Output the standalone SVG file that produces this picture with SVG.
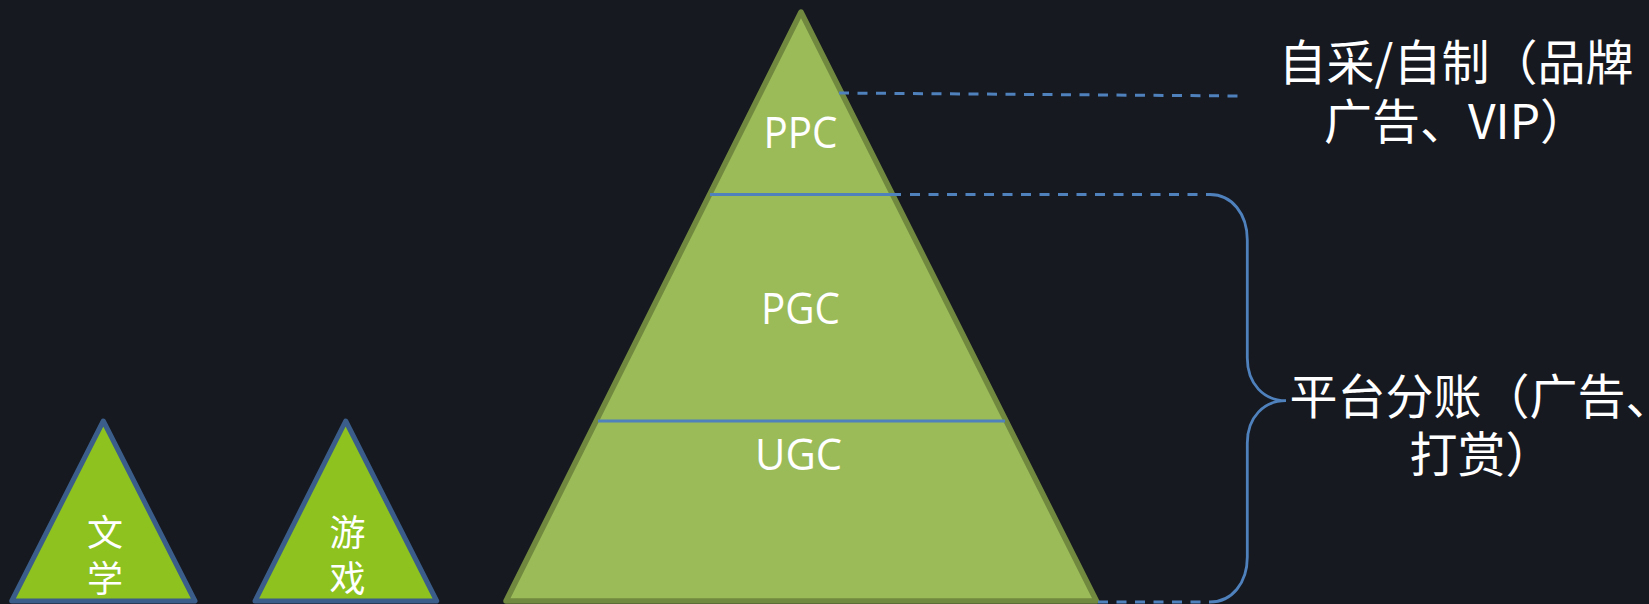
<svg xmlns="http://www.w3.org/2000/svg" width="1649" height="604" viewBox="0 0 1649 604">
<style>
.lat{font-family:"Open Sans","Noto Sans",sans-serif;font-size:44px;fill:#ffffff;text-anchor:middle}
.cjk{font-family:"Noto Sans CJK SC","Noto Sans",sans-serif;fill:#ffffff;text-anchor:middle}
.big{font-size:48px}
.small{font-size:36px}
.tri{fill:#8dc21f;stroke:#3b5d8a;stroke-width:5;stroke-linejoin:round}
.pyr{fill:#9bbb59;stroke:#71893f;stroke-width:5.5;stroke-linejoin:round}
.layer{stroke:#4f81bd;stroke-width:3;fill:none}
.dash{stroke:#4f81bd;stroke-width:3;fill:none;stroke-dasharray:10 8.5}
.brace{stroke:#4f81bd;stroke-width:2.8;fill:none}
</style>
<rect width="1649" height="604" fill="#161920"/>
<g id="node-literature">
<polygon class="tri" points="103.3,421 195,601 11.7,601"/>
<text class="cjk small" x="105" y="546">文</text>
<text class="cjk small" x="105" y="592">学</text>
</g>
<g id="node-games">
<polygon class="tri" points="345.7,421 436.7,601 255,601"/>
<text class="cjk small" x="347.5" y="546">游</text>
<text class="cjk small" x="347.5" y="592">戏</text>
</g>
<g id="node-pyramid">
<polygon class="pyr" points="801,12 1096.5,601 506,601"/>
<line class="layer" x1="710" y1="194.5" x2="901" y2="194.5"/>
<line class="layer" x1="598" y1="421" x2="1005" y2="421"/>
<text class="lat" x="800.5" y="147.5" textLength="74" lengthAdjust="spacingAndGlyphs">PPC</text>
<text class="lat" x="800.5" y="324" textLength="79" lengthAdjust="spacingAndGlyphs">PGC</text>
<text class="lat" x="798.5" y="470" textLength="87" lengthAdjust="spacingAndGlyphs">UGC</text>
</g>
<g id="node-label-top">
<text class="cjk big" x="1456" y="80">自采/自制（品牌</text>
<text class="cjk big" x="1456" y="138.5">广告、VIP）</text>
</g>
<g id="node-label-bottom">
<text class="cjk big" x="1481.5" y="414">平台分账（广告、</text>
<text class="cjk big" x="1481.5" y="472">打赏）</text>
</g>
<g id="connectors">
<line class="dash" x1="839" y1="93" x2="1241" y2="96"/>
<line class="dash" x1="910" y1="194.5" x2="1210" y2="194.5"/>
<line class="dash" x1="1098" y1="602" x2="1210" y2="602"/>
<path class="brace" d="M1210,194.5 C1232,194.5 1247.3,214 1247.3,240 L1247.3,358 C1247.3,384 1264,400.7 1286,400.7 C1264,400.7 1247.3,417 1247.3,443 L1247.3,557 C1247.3,583 1232,602 1210,602"/>
</g>
</svg>
